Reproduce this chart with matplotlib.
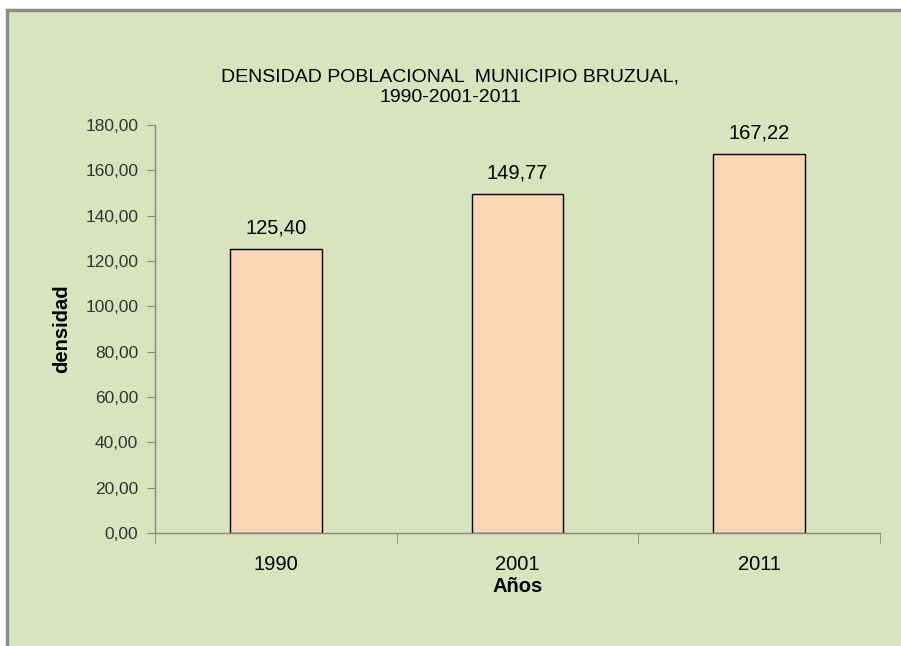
import matplotlib.pyplot as plt
from matplotlib.patches import Rectangle
from matplotlib import font_manager

years = ['1990', '2001', '2011']
densidad = [125.40, 149.77, 167.22]
yticks = [0, 20, 40, 60, 80, 100, 120, 140, 160, 180]

names = {f.name for f in font_manager.fontManager.ttflist}
font = 'Liberation Sans Narrow' if 'Liberation Sans Narrow' in names else 'Liberation Sans'
plt.rcParams['font.family'] = [font, 'DejaVu Sans']

fig = plt.figure(figsize=(9.01, 6.46), dpi=100)
fig.patch.set_facecolor('white')

# green chart area with grey border (cut at right/bottom)
panel = Rectangle((7 / 901, -0.01), 1.0, 1 - 10 / 646 + 0.01, transform=fig.transFigure,
                  facecolor='#D7E4BD', edgecolor='#8C8C8C', linewidth=2.5, zorder=-5)
fig.patches.append(panel)

ax = fig.add_axes([155 / 901, 1 - 533 / 646, (880 - 155) / 901, (533 - 125) / 646])
ax.set_zorder(2)
ax.patch.set_visible(False)

x = range(len(years))
ax.bar(x, densidad, width=0.38, color='#FCD5B5', edgecolor='black', linewidth=1)

for i, v in enumerate(densidad):
    ax.text(i, v + 5, f'{v:.2f}'.replace('.', ','), ha='center', va='bottom', fontsize=14.5)

ax.set_xlim(-0.5, 2.5)
ax.set_ylim(0, 180)
ax.set_yticks(yticks)
ax.set_yticklabels([f'{t:.2f}'.replace('.', ',') for t in yticks], fontsize=12.5, color='#333333')
ax.set_xticks(list(x))
ax.set_xticklabels(years, fontsize=14.5)
ax.set_xticks([-0.5, 0.5, 1.5, 2.5], minor=True)
ax.tick_params(axis='x', which='major', length=0, pad=16)
ax.tick_params(axis='x', which='minor', length=7, color='#868686', direction='out')
ax.tick_params(axis='y', length=6, color='#868686', direction='out', pad=6)

for s in ['top', 'right']:
    ax.spines[s].set_visible(False)
for s in ['left', 'bottom']:
    ax.spines[s].set_color('#868686')
    ax.spines[s].set_linewidth(1)

ax.set_xlabel('Años', fontsize=14.5, fontweight='bold', labelpad=2)
ax.set_ylabel('densidad', fontsize=14.5, fontweight='bold', labelpad=10)

fig.text(450 / 901, 1 - 87 / 646, 'DENSIDAD POBLACIONAL  MUNICIPIO BRUZUAL,\n1990-2001-2011',
         ha='center', va='center', fontsize=14, linespacing=1.3)

fig.savefig('out.png', dpi=100)
